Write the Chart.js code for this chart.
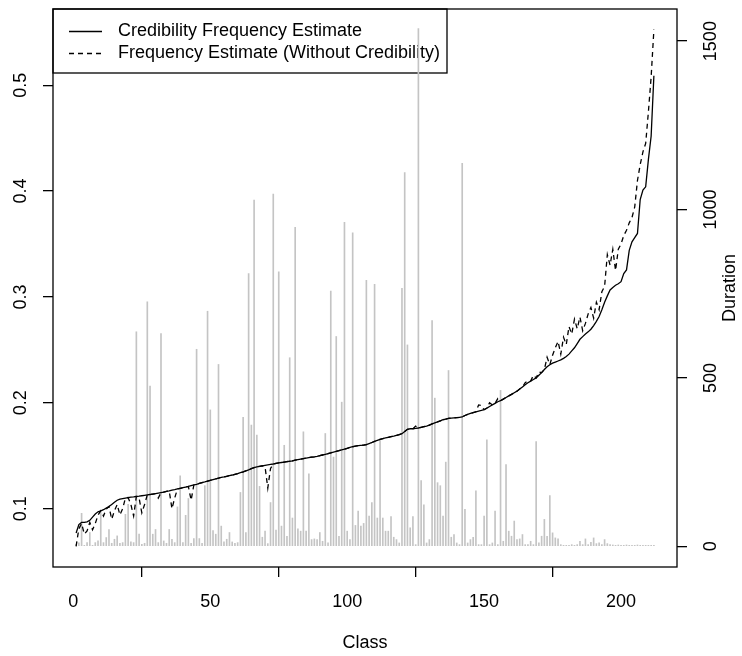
<!DOCTYPE html>
<html>
<head>
<meta charset="utf-8">
<script src="https://cdn.jsdelivr.net/npm/chart.js@4.4.0/dist/chart.umd.min.js"></script>
<style>
  html, body { margin: 0; padding: 0; background: #fff; }
  canvas { display: block; }
</style>
</head>
<body>
<canvas id="chart" width="742" height="656"></canvas>
<script>
// classes 1..212, sorted by credibility estimate
const classes = Array.from({ length: 212 }, (_, i) => i + 1);

// Duration per class (right axis, grey spikes)
const durations = [
  6, 10, 98, 3, 11, 41, 3, 11, 16, 100,
  11, 26, 50, 9, 21, 31, 9, 11, 95, 125,
  13, 11, 637, 36, 6, 9, 726, 476, 36, 50,
  11, 632, 16, 9, 50, 21, 11, 117, 209, 11,
  92, 142, 9, 23, 585, 23, 9, 180, 698, 405,
  47, 36, 540, 60, 13, 21, 41, 13, 9, 11,
  160, 383, 41, 810, 360, 1028, 330, 178, 27, 45,
  8, 130, 1046, 48, 815, 60, 300, 30, 560, 84,
  947, 52, 45, 340, 45, 215, 20, 22, 20, 41,
  15, 335, 10, 758, 265, 623, 30, 428, 962, 45,
  20, 931, 62, 105, 60, 68, 790, 90, 130, 778,
  84, 315, 84, 45, 45, 88, 27, 20, 10, 766,
  1110, 598, 55, 88, 5, 1537, 195, 123, 10, 20,
  670, 440, 189, 180, 90, 250, 522, 27, 35, 10,
  5, 1137, 110, 10, 20, 27, 165, 5, 5, 90,
  316, 5, 10, 105, 5, 463, 15, 243, 45, 30,
  75, 20, 22, 35, 5, 5, 15, 5, 311, 10,
  30, 80, 30, 151, 40, 25, 22, 5, 3, 3,
  3, 5, 3, 5, 15, 5, 22, 5, 12, 25,
  8, 10, 5, 20, 8, 5, 4, 3, 4, 3,
  3, 4, 3, 3, 3, 4, 3, 3, 3, 3,
  3, 3
];

// Credibility frequency estimate (left axis, solid)
const credibility = [
  0.077, 0.085, 0.087, 0.087, 0.0875, 0.089, 0.092, 0.095, 0.097, 0.098,
  0.099, 0.1005, 0.102, 0.104, 0.106, 0.108, 0.109, 0.1095, 0.110, 0.1105,
  0.111, 0.1112, 0.1115, 0.1118, 0.1122, 0.1126, 0.113, 0.1134, 0.1138, 0.1142,
  0.1147, 0.1152, 0.1157, 0.1163, 0.1168, 0.1175, 0.118, 0.1186, 0.1192, 0.1198,
  0.1204, 0.121, 0.1217, 0.1224, 0.123, 0.1238, 0.1245, 0.1252, 0.126, 0.1268,
  0.1275, 0.1282, 0.1288, 0.1295, 0.130, 0.1306, 0.1312, 0.1318, 0.1325, 0.1332,
  0.134, 0.1348, 0.1357, 0.1366, 0.1378, 0.1388, 0.1395, 0.140, 0.1405, 0.141,
  0.1414, 0.1418, 0.1422, 0.1428, 0.1432, 0.1436, 0.144, 0.1444, 0.1448, 0.1452,
  0.1458, 0.1463, 0.1468, 0.1473, 0.1478, 0.1483, 0.1487, 0.149, 0.1494, 0.150,
  0.1507, 0.1514, 0.152, 0.1527, 0.1535, 0.1542, 0.1548, 0.1555, 0.1562, 0.157,
  0.1578, 0.1585, 0.159, 0.1595, 0.1598, 0.160, 0.1605, 0.1615, 0.1625, 0.1635,
  0.1645, 0.1655, 0.1662, 0.1668, 0.1674, 0.168, 0.1686, 0.1693, 0.170, 0.1708,
  0.173, 0.175, 0.1755, 0.1755, 0.1758, 0.1762, 0.1768, 0.1774, 0.178, 0.179,
  0.180, 0.181, 0.182, 0.183, 0.184, 0.1846, 0.1852, 0.1855, 0.1858, 0.186,
  0.1862, 0.1866, 0.188, 0.189, 0.190, 0.1908, 0.1915, 0.1922, 0.1928, 0.1935,
  0.195, 0.1965, 0.198, 0.1995, 0.201, 0.202, 0.2035, 0.205, 0.2065, 0.208,
  0.2095, 0.211, 0.213, 0.215, 0.217, 0.219, 0.2205, 0.222, 0.2235, 0.226,
  0.2285, 0.2315, 0.234, 0.236, 0.2375, 0.2385, 0.2395, 0.2405, 0.242, 0.2437,
  0.246, 0.249, 0.252, 0.256, 0.260, 0.2625, 0.265, 0.267, 0.2695, 0.273,
  0.277, 0.2815, 0.288, 0.295, 0.301, 0.3066, 0.309, 0.311, 0.3125, 0.3144,
  0.322, 0.3255, 0.344, 0.352, 0.356, 0.360, 0.392, 0.401, 0.404, 0.430,
  0.452, 0.509
];

// Frequency estimate without credibility (left axis, dashed)
const rawFrequency = [
  0.0644, 0.081, 0.086, 0.076, 0.079, 0.087, 0.080, 0.086, 0.094, 0.098,
  0.093, 0.0995, 0.102, 0.090, 0.098, 0.104, 0.094, 0.100, 0.110, 0.1105,
  0.104, 0.093, 0.1115, 0.110, 0.096, 0.104, 0.113, 0.1134, 0.1138, 0.1142,
  0.110, 0.1152, 0.1157, 0.1163, 0.1168, 0.100, 0.110, 0.1186, 0.1192, 0.1198,
  0.1204, 0.121, 0.108, 0.1224, 0.123, 0.1238, 0.1245, 0.1252, 0.126, 0.1268,
  0.1275, 0.1282, 0.1288, 0.1295, 0.130, 0.1306, 0.1312, 0.1318, 0.1325, 0.1332,
  0.134, 0.1348, 0.1357, 0.1366, 0.1378, 0.1388, 0.1395, 0.140, 0.1405, 0.1395,
  0.1195, 0.138, 0.1422, 0.1428, 0.1432, 0.1436, 0.144, 0.1444, 0.1448, 0.1452,
  0.1458, 0.1463, 0.1468, 0.1473, 0.1478, 0.1483, 0.1487, 0.149, 0.1494, 0.150,
  0.1507, 0.1514, 0.152, 0.1527, 0.1535, 0.1542, 0.1548, 0.1555, 0.1562, 0.157,
  0.1578, 0.1585, 0.159, 0.1595, 0.1598, 0.160, 0.1605, 0.1615, 0.1625, 0.1635,
  0.1645, 0.1655, 0.1662, 0.1668, 0.1674, 0.168, 0.1686, 0.1693, 0.170, 0.1708,
  0.173, 0.175, 0.1755, 0.1755, 0.178, 0.1762, 0.1768, 0.1774, 0.178, 0.179,
  0.180, 0.181, 0.182, 0.183, 0.184, 0.1846, 0.1852, 0.1855, 0.1858, 0.186,
  0.1862, 0.1866, 0.188, 0.189, 0.190, 0.1908, 0.1915, 0.198, 0.1975, 0.1935,
  0.195, 0.200, 0.198, 0.1995, 0.204, 0.202, 0.2035, 0.205, 0.2065, 0.208,
  0.2095, 0.211, 0.213, 0.215, 0.219, 0.221, 0.2205, 0.226, 0.2235, 0.229,
  0.2285, 0.2315, 0.243, 0.236, 0.245, 0.252, 0.258, 0.246, 0.262, 0.255,
  0.272, 0.265, 0.279, 0.270, 0.281, 0.268, 0.275, 0.284, 0.290, 0.280,
  0.295, 0.288, 0.305, 0.310, 0.340, 0.330, 0.345, 0.325, 0.345, 0.350,
  0.358, 0.363, 0.370, 0.375, 0.385, 0.410, 0.425, 0.437, 0.445, 0.475,
  0.508, 0.5525
];

const xTicks = [0, 50, 100, 150, 200];
const yTicks = [0.1, 0.2, 0.3, 0.4, 0.5];
const y2Ticks = [0, 500, 1000, 1500];
const legendLabels = ['Credibility Frequency Estimate', 'Frequency Estimate (Without Credibility)'];

const FONT = '"Liberation Sans", Arial, Helvetica, sans-serif';

function fixedTicks(values) {
    return function (scale) {
        scale.ticks = values.map(v => ({ value: v }));
    };
}

const tickGrid = {
    display: true,
    drawOnChartArea: false,
    drawTicks: true,
    tickLength: 10,
    color: '#000',
    lineWidth: 1.3
};

// R style box, rotated axis labels, titles and legend
const rStyle = {
    id: 'rStyle',
    beforeDatasetsDraw(chart) {
        const ctx = chart.ctx;
        const a = chart.chartArea;
        ctx.save();
        ctx.strokeStyle = '#000';
        ctx.lineWidth = 1.3;
        ctx.strokeRect(a.left, a.top, 394, 64);

        ctx.beginPath();
        ctx.moveTo(69, 31.5);
        ctx.lineTo(102, 31.5);
        ctx.stroke();
        ctx.setLineDash([5, 4]);
        ctx.beginPath();
        ctx.moveTo(69, 53.5);
        ctx.lineTo(102, 53.5);
        ctx.stroke();
        ctx.setLineDash([]);

        ctx.fillStyle = '#000';
        ctx.font = '18px ' + FONT;
        ctx.textAlign = 'left';
        ctx.textBaseline = 'middle';
        ctx.fillText(legendLabels[0], 118, 31.5);
        ctx.fillText(legendLabels[1], 118, 53.5);
        ctx.restore();
    },
    afterDraw(chart) {
        const ctx = chart.ctx;
        const a = chart.chartArea;
        ctx.save();
        ctx.strokeStyle = '#000';
        ctx.lineWidth = 1.3;
        ctx.strokeRect(a.left, a.top, a.right - a.left, a.bottom - a.top);

        ctx.fillStyle = '#000';
        ctx.font = '18px ' + FONT;
        ctx.textAlign = 'center';
        ctx.textBaseline = 'middle';

        const vText = (txt, x, y) => {
            ctx.save();
            ctx.translate(x, y);
            ctx.rotate(-Math.PI / 2);
            ctx.fillText(txt, 0, 0);
            ctx.restore();
        };

        const yScale = chart.scales.y;
        yTicks.forEach(v => vText(String(v), 21, yScale.getPixelForValue(v)));
        const y2Scale = chart.scales.y2;
        y2Ticks.forEach(v => vText(String(v), 711, y2Scale.getPixelForValue(v)));

        ctx.fillText('Class', (a.left + a.right) / 2, 643);
        vText('Duration', 730, (a.top + a.bottom) / 2);
        ctx.restore();
    }
};

new Chart(document.getElementById('chart'), {
    type: 'bar',
    data: {
        datasets: [
            {
                type: 'line',
                label: legendLabels[0],
                data: classes.map((c, i) => ({ x: c, y: credibility[i] })),
                yAxisID: 'y',
                borderColor: '#000',
                borderWidth: 1.3,
                pointRadius: 0,
                tension: 0,
                fill: false,
                order: 1
            },
            {
                type: 'line',
                label: legendLabels[1],
                data: classes.map((c, i) => ({ x: c, y: rawFrequency[i] })),
                yAxisID: 'y',
                borderColor: '#000',
                borderWidth: 1.3,
                borderDash: [5, 4],
                pointRadius: 0,
                tension: 0,
                fill: false,
                order: 2
            },
            {
                type: 'bar',
                label: 'Duration',
                data: classes.map((c, i) => ({ x: c, y: durations[i] })),
                yAxisID: 'y2',
                backgroundColor: '#c4c4c4',
                borderWidth: 0,
                barThickness: 1,
                order: 3
            }
        ]
    },
    options: {
        responsive: false,
        animation: false,
        devicePixelRatio: 1,
        layout: { padding: { top: 9 } },
        plugins: {
            legend: { display: false },
            tooltip: { enabled: false }
        },
        scales: {
            x: {
                type: 'linear',
                min: -7.44,
                max: 220.44,
                offset: false,
                afterBuildTicks: fixedTicks(xTicks),
                afterFit: s => { s.height = 89; },
                grid: tickGrid,
                border: { display: false },
                ticks: {
                    color: '#000',
                    font: { family: FONT, size: 18 },
                    padding: 14,
                    maxRotation: 0,
                    autoSkip: false
                }
            },
            y: {
                position: 'left',
                min: 0.0449,
                max: 0.572,
                afterBuildTicks: fixedTicks(yTicks),
                afterFit: s => { s.width = 53; },
                grid: tickGrid,
                border: { display: false },
                ticks: { display: false }
            },
            y2: {
                position: 'right',
                min: -61.4,
                max: 1595.4,
                afterBuildTicks: fixedTicks(y2Ticks),
                afterFit: s => { s.width = 65; },
                grid: tickGrid,
                border: { display: false },
                ticks: { display: false }
            }
        }
    },
    plugins: [rStyle]
});
</script>
</body>
</html>
